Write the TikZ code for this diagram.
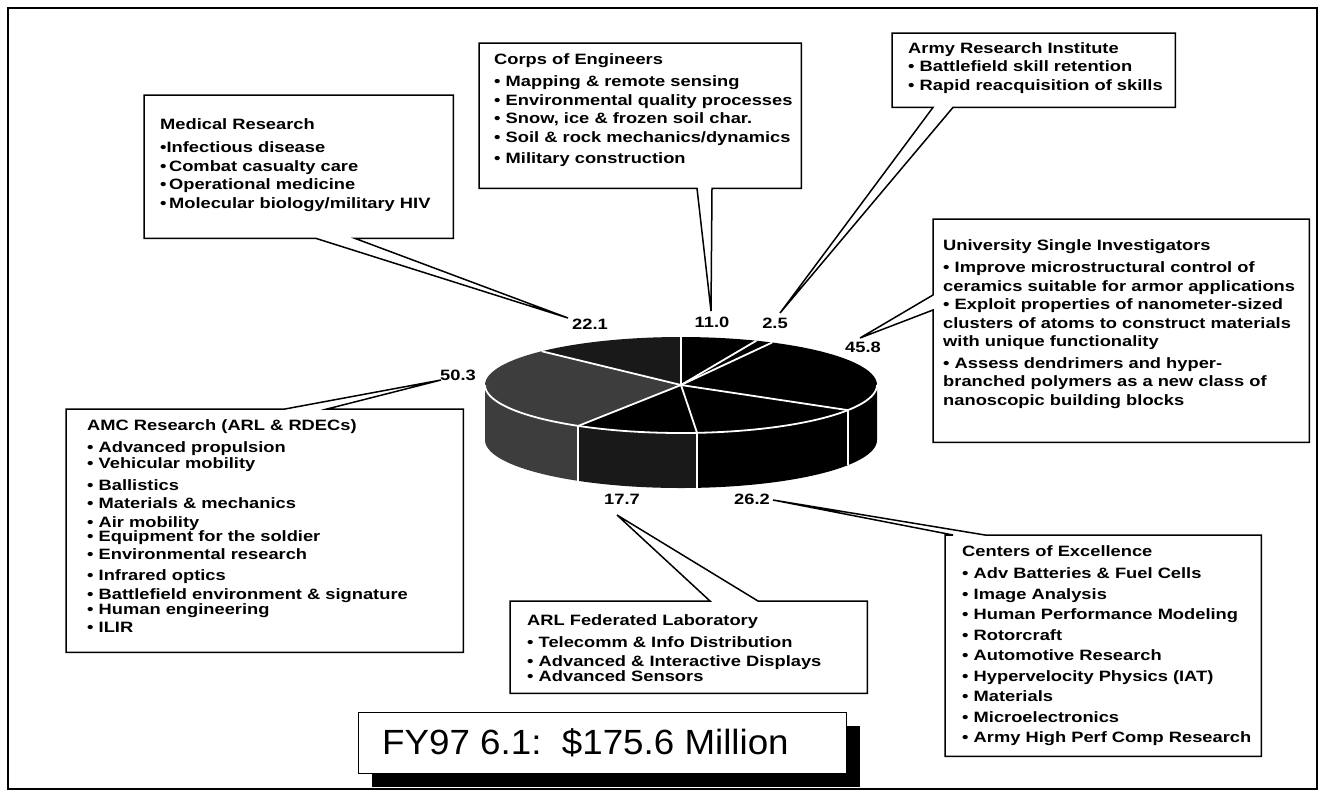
\documentclass[tikz,border=0pt]{standalone}
\usepackage{fontspec}
\setmainfont{Liberation Sans}
\newfontfamily\boxfont{Liberation Sans}[FakeStretch=1.22]
\newfontfamily\bigfont{Liberation Sans}[FakeStretch=1.05]
\usetikzlibrary{calc}
\begin{document}
\begin{tikzpicture}[x=1pt,y=-1pt,line join=miter]
\tikzset{
  area/.style={inner sep=0pt, anchor=north west, draw=none},
  callout/.style={draw, line width=1.5pt, fill=white},
  txt/.style={inner sep=0pt, anchor=north west, align=left,
              font=\boxfont\bfseries\fontsize{15}{18.5}\selectfont},
  lbl/.style={inner sep=0pt, font=\boxfont\bfseries\fontsize{15}{18}\selectfont},
  sep/.style={white, line width=1.8pt},
  speckA/.style={fill=black!76},
  speckB/.style={fill=black!90},
}
\useasboundingbox (0,0) rectangle (1324,796);
\draw[line width=1.4pt] (8,8) rectangle (1317,789);

% ---------- pie ----------
\def\cx{681}\def\cy{385}\def\rx{196}\def\ry{48}\def\dep{55}
% top face
\fill[speckB] (\cx,\cy) -- plot[domain=90:135.3,samples=30] ({\cx+\rx*cos(\x)},{\cy-\ry*sin(\x)}) -- cycle;
\fill[speckA] (\cx,\cy) -- plot[domain=135.3:238.4,samples=50] ({\cx+\rx*cos(\x)},{\cy-\ry*sin(\x)}) -- cycle;
\fill[black] (\cx,\cy) -- plot[domain=238.4:450,samples=90] ({\cx+\rx*cos(\x)},{\cy-\ry*sin(\x)}) -- cycle;
% front side
\fill[speckA] plot[domain=180:238.4,samples=30] ({\cx+\rx*cos(\x)},{\cy-\ry*sin(\x)})
   -- plot[domain=238.4:180,samples=30] ({\cx+\rx*cos(\x)},{\cy+\dep-\ry*sin(\x)}) -- cycle;
\fill[speckB] plot[domain=238.4:274.7,samples=20] ({\cx+\rx*cos(\x)},{\cy-\ry*sin(\x)})
   -- plot[domain=274.7:238.4,samples=20] ({\cx+\rx*cos(\x)},{\cy+\dep-\ry*sin(\x)}) -- cycle;
\fill[black] plot[domain=274.7:360,samples=40] ({\cx+\rx*cos(\x)},{\cy-\ry*sin(\x)})
   -- plot[domain=360:274.7,samples=40] ({\cx+\rx*cos(\x)},{\cy+\dep-\ry*sin(\x)}) -- cycle;
% slice borders
\foreach \a in {90,135.3,238.4,274.7,328.4,62.3,67.4}
  \draw[sep] (\cx,\cy) -- ({\cx+\rx*cos(\a)},{\cy-\ry*sin(\a)});
\draw[sep] plot[domain=180:360,samples=80] ({\cx+\rx*cos(\x)},{\cy-\ry*sin(\x)});
\foreach \a in {238.4,274.7,328.4}
  \draw[sep] ({\cx+\rx*cos(\a)},{\cy-\ry*sin(\a)}) -- ({\cx+\rx*cos(\a)},{\cy+\dep-\ry*sin(\a)});

% ---------- slice values ----------
\node[lbl] (v221) at (590,324) {22.1};
\node[lbl] (v110) at (712,322) {11.0};
\node[lbl] (v25)  at (775,323) {2.5};
\node[lbl] (v458) at (863,347) {45.8};
\node[lbl] (v503) at (458,375) {50.3};
\node[lbl] (v177) at (622,499) {17.7};
\node[lbl] (v262) at (752,499) {26.2};

% callout tips
\coordinate (p221) at (568,318);
\coordinate (p110) at (711,311);
\coordinate (p25)  at (780,313);
\coordinate (p458) at (860,338);
\coordinate (p503) at (441,380);
\coordinate (p177) at (617,515);
\coordinate (p262) at (773,500);

% ---------- Medical Research ----------
\node[area, minimum width=309pt, minimum height=143pt] (med) at (144,95) {};
\draw[callout] (med.north west) -- (med.north east) -- (med.south east)
  -- ($(med.south west)+(211,0)$) -- (p221) -- ($(med.south west)+(172,0)$) -- (med.south west) -- cycle;
\node[txt] (medt) at (160,118) {Medical Research\\[5pt]
  •Infectious disease\\
  •\,Combat casualty care\\
  •\,Operational medicine\\
  •\,Molecular biology/military HIV};

% ---------- Corps of Engineers ----------
\node[area, minimum width=322pt, minimum height=145pt] (coe) at (479,43) {};
\draw[callout] (coe.north west) -- (coe.north east) -- (coe.south east)
  -- ($(coe.south west)+(233,0)$) -- (p110) -- ($(coe.south west)+(218,0)$) -- (coe.south west) -- cycle;
\node[txt] (coet) at (494,53) {Corps of Engineers\\[4pt]
  • Mapping \& remote sensing\\
  • Environmental quality processes\\
  • Snow, ice \& frozen soil char.\\
  • Soil \& rock mechanics/dynamics\\[3pt]
  • Military construction};

% ---------- Army Research Institute ----------
\node[area, minimum width=283pt, minimum height=74pt] (ari) at (892,33) {};
\draw[callout] (ari.north west) -- (ari.north east) -- (ari.south east)
  -- ($(ari.south west)+(61,0)$) -- (p25) -- ($(ari.south west)+(41,0)$) -- (ari.south west) -- cycle;
\node[txt] (arit) at (908,42) {Army Research Institute\\
  • Battlefield skill retention\\
  • Rapid reacquisition of skills};

% ---------- University Single Investigators ----------
\node[area, minimum width=376pt, minimum height=223pt] (usi) at (933,219) {};
\draw[callout] (usi.north west) -- (usi.north east) -- (usi.south east) -- (usi.south west)
  -- ($(usi.north west)+(0,91)$) -- (p458) -- ($(usi.north west)+(0,76)$) -- cycle;
\node[txt] (usit) at (943,239) {University Single Investigators\\[4pt]
  • Improve microstructural control of\\
  ceramics suitable for armor applications\\
  • Exploit properties of nanometer-sized\\
  clusters of atoms to construct materials\\
  with unique functionality\\[3pt]
  • Assess dendrimers and hyper-\\
  branched polymers as a new class of\\
  nanoscopic building blocks};

% ---------- AMC Research ----------
\node[area, minimum width=397pt, minimum height=243pt] (amc) at (66,409) {};
\draw[callout] (amc.south west) -- (amc.north west) -- ($(amc.north west)+(219,0)$) -- (p503)
  -- ($(amc.north west)+(261,0)$) -- (amc.north east) -- (amc.south east) -- cycle;
\node[txt] (amct) at (87,419) {AMC Research (ARL \& RDECs)\\[3.5pt]
  • Advanced propulsion\\[-2.5pt]
  • Vehicular mobility\\[3.5pt]
  • Ballistics\\
  • Materials \& mechanics\\
  • Air mobility\\[-4.5pt]
  • Equipment for the soldier\\
  • Environmental research\\[2.5pt]
  • Infrared optics\\
  • Battlefield environment \& signature\\[-3.5pt]
  • Human engineering\\
  • ILIR};

% ---------- ARL Federated Laboratory ----------
\node[area, minimum width=357pt, minimum height=92pt] (arl) at (510,601) {};
\draw[callout] (arl.south west) -- (arl.north west) -- ($(arl.north west)+(200,0)$) -- (p177)
  -- ($(arl.north west)+(248,0)$) -- (arl.north east) -- (arl.south east) -- cycle;
\node[txt] (arlt) at (527,614) {ARL Federated Laboratory\\[4pt]
  • Telecomm \& Info Distribution\\
  • Advanced \& Interactive Displays\\[-3pt]
  • Advanced Sensors};

% ---------- Centers of Excellence ----------
\node[area, minimum width=316pt, minimum height=221pt] (cen) at (945,535) {};
\draw[callout] (cen.south west) -- (cen.north west) -- ($(cen.north west)+(8,0)$) -- (p262)
  -- ($(cen.north west)+(40,0)$) -- (cen.north east) -- (cen.south east) -- cycle;
\node[txt] (cent) at (962,545) {Centers of Excellence\\[4pt]
  • Adv Batteries \& Fuel Cells\\[2pt]
  • Image Analysis\\[2pt]
  • Human Performance Modeling\\[2pt]
  • Rotorcraft\\[2pt]
  • Automotive Research\\[2pt]
  • Hypervelocity Physics (IAT)\\[2pt]
  • Materials\\[2pt]
  • Microelectronics\\[2pt]
  • Army High Perf Comp Research};

% ---------- total ----------
\fill (372,726) rectangle (860,787);
\node[area, draw, fill=white, line width=1.4pt, minimum width=488pt, minimum height=61pt] (tot) at (358,712) {};
\node[inner sep=0pt, anchor=west, font=\bigfont\fontsize{35}{40}\selectfont] (tott)
  at ($(tot.west)+(24,0)$) {FY97 6.1:\ \ \$175.6 Million};
\end{tikzpicture}
\end{document}
